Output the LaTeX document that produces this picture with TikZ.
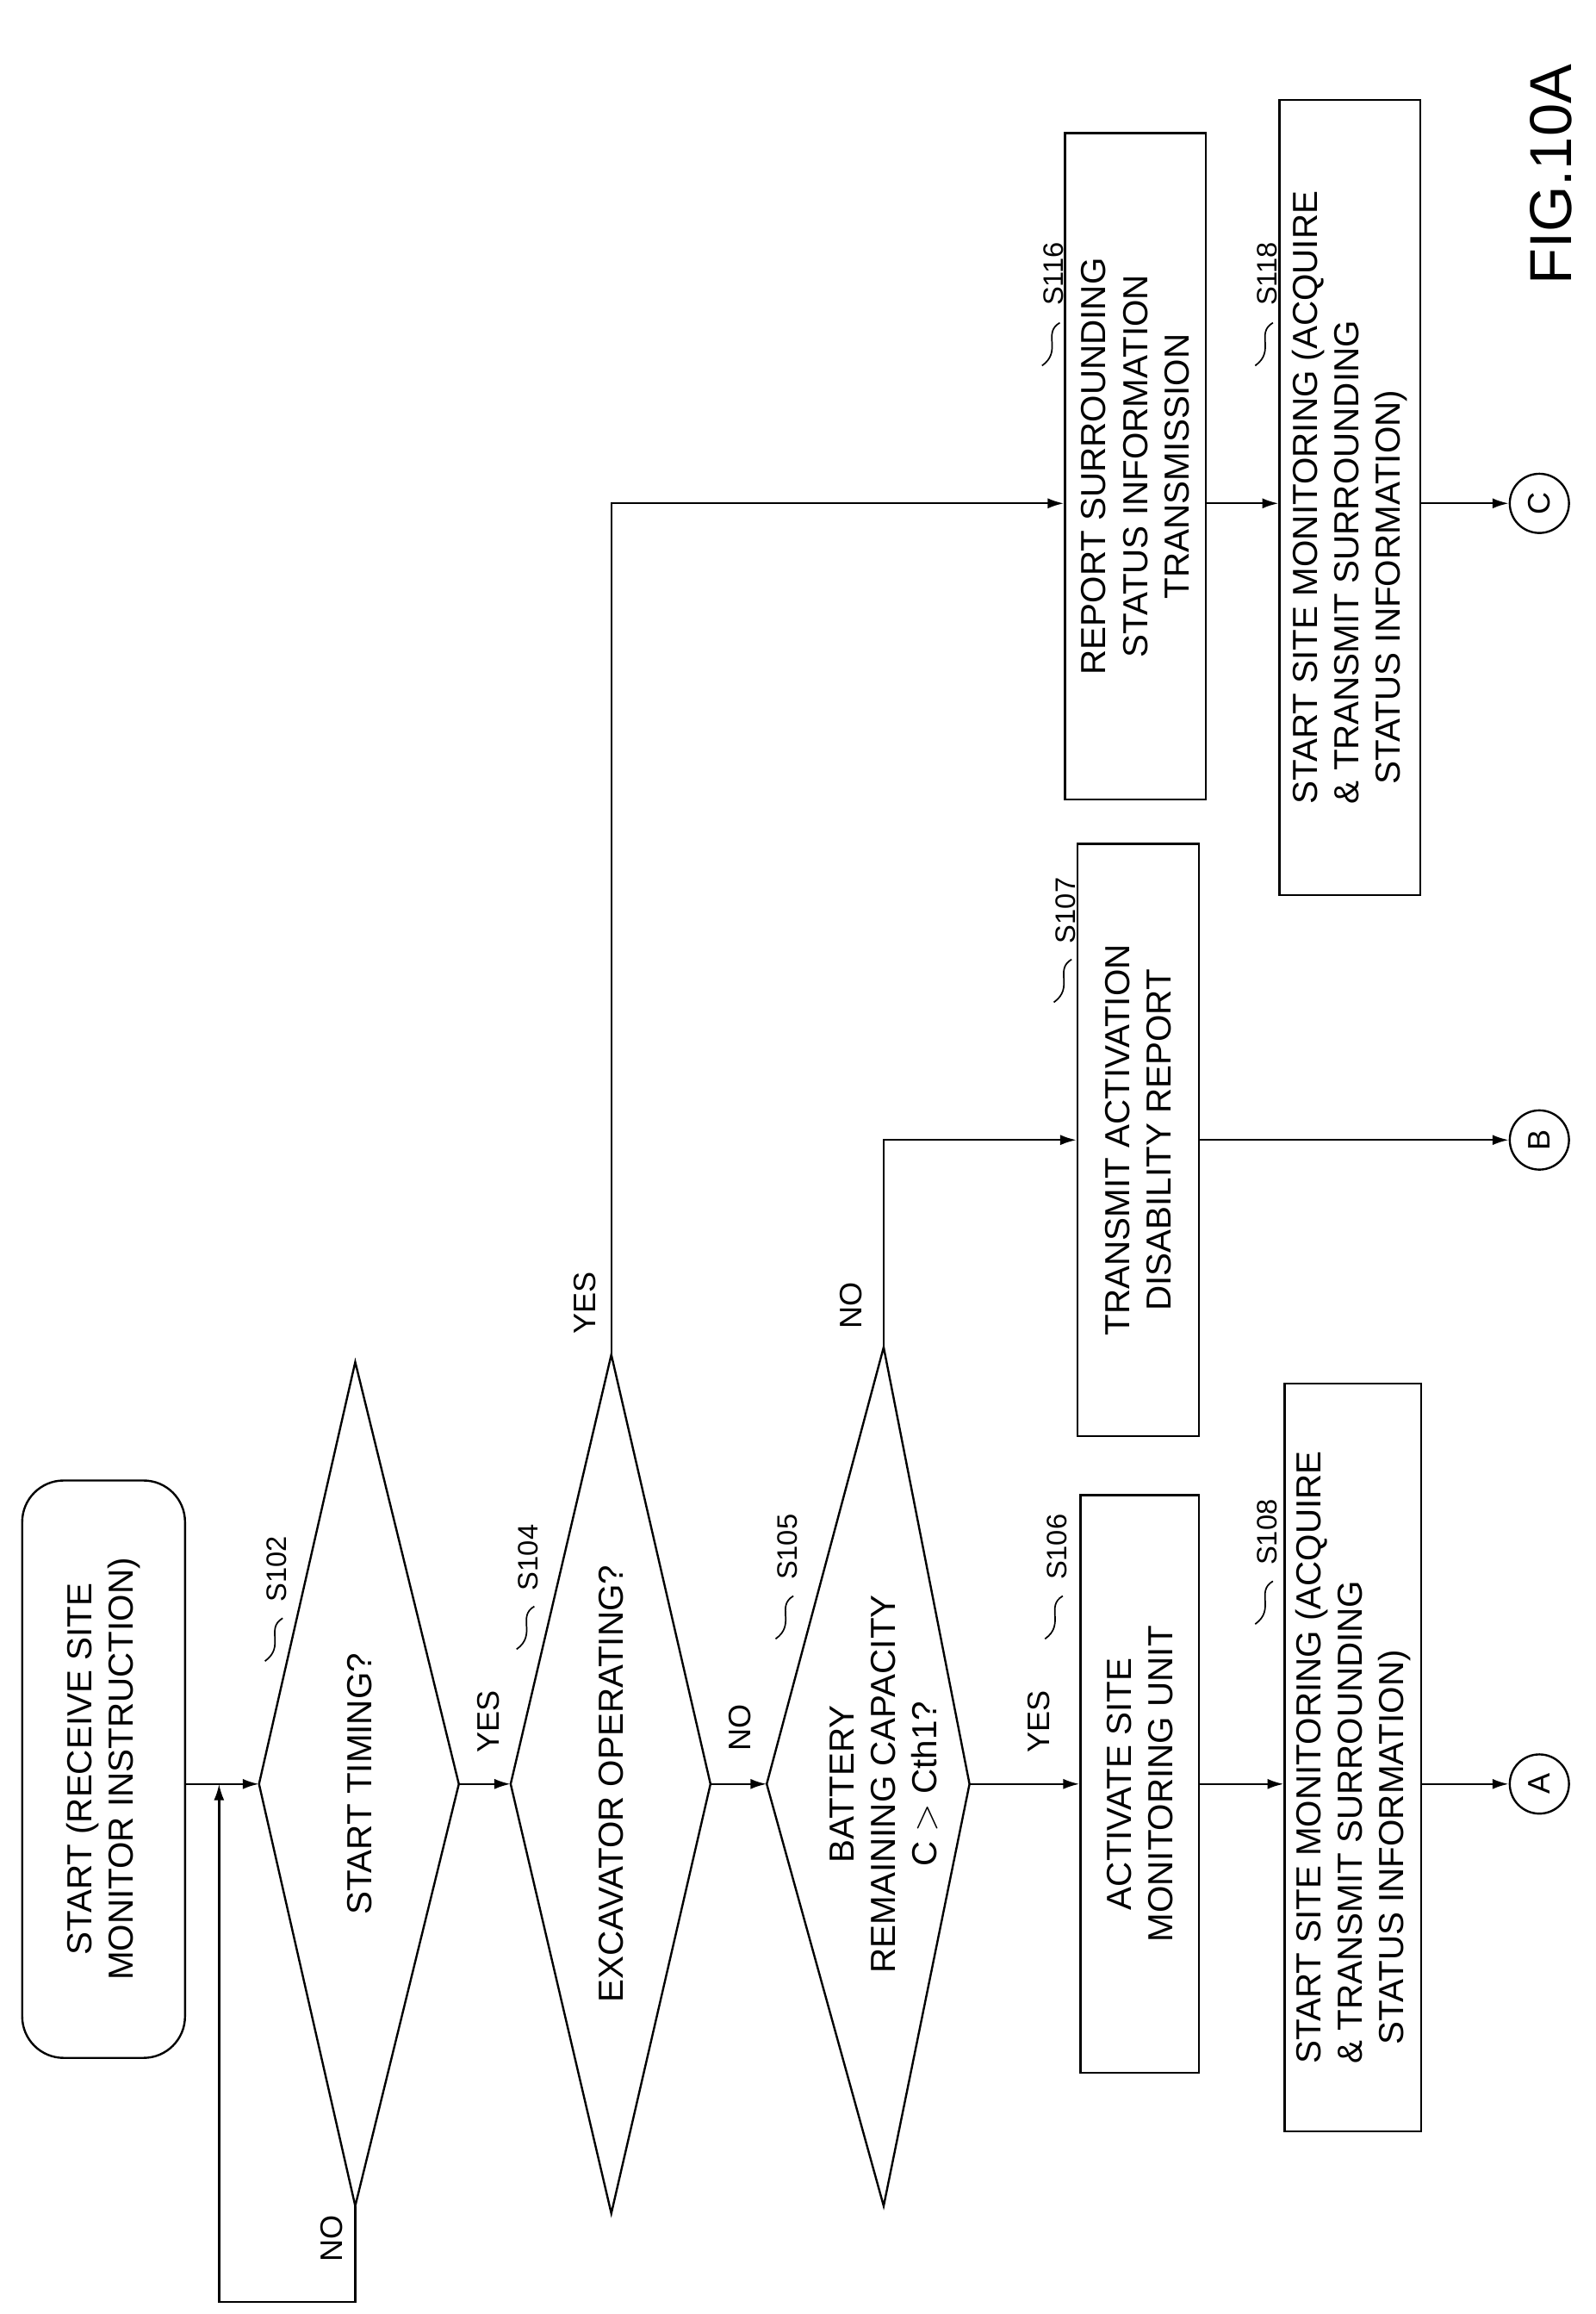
\documentclass[tikz,border=0pt]{standalone}
\usepackage{fontspec}
\setmainfont{Liberation Sans}
\usetikzlibrary{arrows.meta}
\begin{document}
\begin{tikzpicture}[x=1pt,y=-1pt,line width=1.4pt,
  txt/.style={rotate=90,align=center,font=\fontsize{23.5}{28}\selectfont},
  box/.style={txt,draw,inner sep=2pt},
  lab/.style={rotate=90,font=\fontsize{21}{22}\selectfont},
  stp/.style={rotate=90,font=\fontsize{19}{20}\selectfont},
  arr/.style={-{Latex[length=11pt,width=7pt]}},
  circ/.style={draw,circle,minimum size=40pt,inner sep=0pt,rotate=90,font=\fontsize{21}{22}\selectfont}]
\useasboundingbox (0,0) rectangle (1078,1563);
% start
\node[box,rounded corners=28pt,minimum width=390pt,minimum height=110pt] (st) at (70,1195) {START (RECEIVE SITE\\MONITOR INSTRUCTION)};
% diamond S102
\coordinate (d1l) at (175,1205); \coordinate (d1r) at (310,1205);
\coordinate (d1t) at (240,920); \coordinate (d1b) at (240,1490);
\draw (d1l)--(d1t)--(d1r)--(d1b)--cycle;
\node[txt] (t1) at (243,1205) {START TIMING?};
% diamond S104
\coordinate (d2l) at (345,1205); \coordinate (d2r) at (480,1205);
\coordinate (d2t) at (413,915); \coordinate (d2b) at (413,1495);
\draw (d2l)--(d2t)--(d2r)--(d2b)--cycle;
\node[txt] (t2) at (413,1205) {EXCAVATOR OPERATING?};
% diamond S105
\coordinate (d3l) at (518,1205); \coordinate (d3r) at (655,1205);
\coordinate (d3t) at (597,910); \coordinate (d3b) at (597,1490);
\draw (d3l)--(d3t)--(d3r)--(d3b)--cycle;
\node[txt] (t3) at (597,1205) {BATTERY\\REMAINING CAPACITY\\C $>$ Cth1?};
% boxes
\node[box,minimum width=390pt,minimum height=80pt] (b106) at (770,1205) {ACTIVATE SITE\\MONITORING UNIT};
\node[box,align=left,minimum width=505pt,minimum height=92pt] (b108) at (914,1187) {START SITE MONITORING (ACQUIRE\\\& TRANSMIT SURROUNDING\\\ \ STATUS INFORMATION)};
\node[box,minimum width=400pt,minimum height=82pt] (b107) at (769,770) {TRANSMIT ACTIVATION\\DISABILITY REPORT};
\node[box,minimum width=450pt,minimum height=95pt] (b116) at (767,315) {REPORT SURROUNDING\\STATUS INFORMATION\\TRANSMISSION};
\node[box,align=left,minimum width=537pt,minimum height=95pt] (b118) at (912,336) {START SITE MONITORING (ACQUIRE\\\& TRANSMIT SURROUNDING\\\ \ STATUS INFORMATION)};
\node[circ] (cA) at (1040,1205) {A};
\node[circ] (cB) at (1040,770) {B};
\node[circ] (cC) at (1040,340) {C};
% connectors
\draw[arr] (st.south |- d1l) -- (d1l);
\coordinate (lp1) at (240,1555); \coordinate (lp2) at (148,1555); \coordinate (lp3) at (148,1205);
\draw[arr] (d1b) -- (lp1) -- (lp2) -- (lp3);
\draw[arr] (d1r) -- (d2l);
\draw[arr] (d2r) -- (d3l);
\draw[arr] (d3r) -- (b106.north |- d3r);
\draw[arr] (b106.south) -- (b108.north |- b106.south);
\draw[arr] (b108.south |- cA) -- (cA);
\coordinate (y1) at (413,340);
\draw[arr] (d2t) -- (y1) -- (b116.north |- y1);
\draw[arr] (b116.south |- y1) -- (b118.north |- y1);
\draw[arr] (b118.south |- cC) -- (cC);
\coordinate (n1) at (597,770);
\draw[arr] (d3t) -- (n1) -- (b107.north |- n1);
\draw[arr] (b107.south |- cB) -- (cB);
% labels
\node[lab] at (224,1512) {NO};
\node[lab] at (330,1163) {YES};
\node[lab] at (395,880) {YES};
\node[lab] at (500,1167) {NO};
\node[lab] at (575,882) {NO};
\node[lab] at (702,1163) {YES};
% step labels
\foreach \x/\y/\s in {187/1060/S102,357/1052/S104,532/1045/S105,714/1045/S106,856/1035/S108,720/615/S107,712/185/S116,856/185/S118}{
  \node[stp] at (\x,\y) {\s};
  \draw[line width=1pt] (\x+4,\y+33) .. controls (\x-8,\y+40) and (\x+6,\y+52) .. (\x-8,\y+62);
}
\node[rotate=90,font=\fontsize{40}{42}\selectfont] (fig) at (1048,118) {FIG.10A};
\end{tikzpicture}
\end{document}
